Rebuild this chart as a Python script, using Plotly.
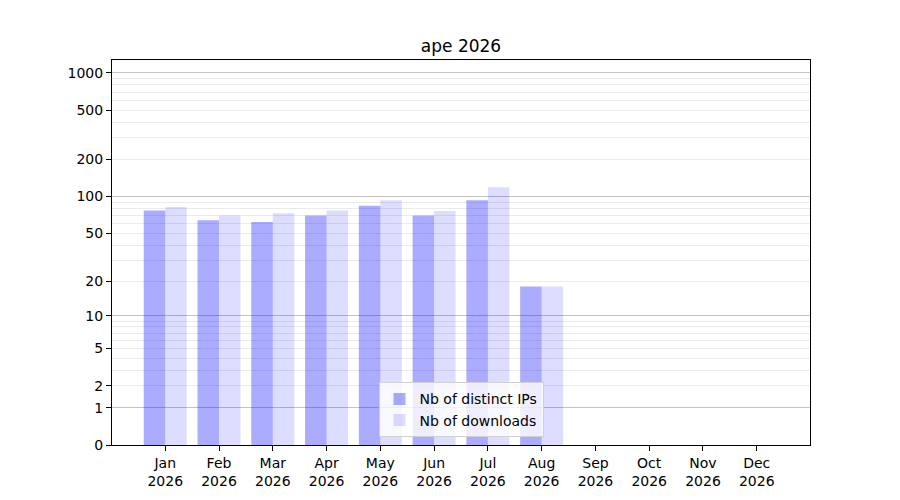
import numpy as np
import plotly.graph_objects as go

TITLE = "ape 2026"
YEAR = "2026"
MONTHS = ["Jan", "Feb", "Mar", "Apr", "May", "Jun",
          "Jul", "Aug", "Sep", "Oct", "Nov", "Dec"]

# monthly counts (Jan..Aug, nothing after)
distinct_ips = [77, 64, 62, 70, 84, 70, 93, 18]
downloads = [82, 70, 73, 77, 93, 76, 119, 18]

y_labels = [0, 1, 2, 5, 10, 20, 50, 100, 200, 500, 1000]
major_grid = [1, 10, 100, 1000]
minor_grid = [m * 10 ** k for k in range(3) for m in range(2, 10)]
y_max = 1273


def log1p10(v):
	# log10(1+x) scale, same as the original symlog-ish axis
	return np.log10(1 + np.asarray(v, dtype=float))


FONT = "DejaVu Sans"

fig = go.Figure()
fig.add_trace(go.Bar(
	x=np.arange(len(distinct_ips)),
	y=log1p10(distinct_ips),
	customdata=distinct_ips,
	hovertemplate="%{customdata}<extra>Nb of distinct IPs</extra>",
	name="Nb of distinct IPs",
	marker=dict(color="rgba(0,0,255,0.33)", line=dict(width=0)),
))
fig.add_trace(go.Bar(
	x=np.arange(len(downloads)),
	y=log1p10(downloads),
	customdata=downloads,
	hovertemplate="%{customdata}<extra>Nb of downloads</extra>",
	name="Nb of downloads",
	marker=dict(color="rgba(0,0,255,0.135)", line=dict(width=0)),
))
# empty trace so the label axis gets drawn
fig.add_trace(go.Scatter(x=[], y=[], yaxis="y2", showlegend=False, hoverinfo="skip"))

# page has an 8px body margin, so margins are shifted by that
fig.update_layout(
	width=900,
	height=500,
	margin=dict(l=104, r=98, t=52, b=63),
	paper_bgcolor="white",
	plot_bgcolor="white",
	font=dict(family=FONT, size=14, color="black"),
	title=dict(text=TITLE, x=0.5, xref="paper", xanchor="center",
		y=1 - 38 / 500, yref="container", yanchor="middle",
		font=dict(family=FONT, size=17, color="black")),
	barmode="group",
	bargap=0.2,
	bargroupgap=0,
	showlegend=True,
	legend=dict(
		x=0.5, xanchor="center", y=0.02, yanchor="bottom",
		bgcolor="rgba(255,255,255,0.8)", bordercolor="#d0d0d0", borderwidth=1,
		font=dict(family=FONT, size=14, color="black"),
	),
	xaxis=dict(
		range=[-0.99, 11.99],
		tickmode="array",
		tickvals=list(range(len(MONTHS))),
		ticktext=["{}<br>{}".format(m, YEAR) for m in MONTHS],
		ticks="outside", ticklen=5, tickcolor="black",
		showline=True, linecolor="black", linewidth=1, mirror=True,
		showgrid=False, zeroline=False,
	),
	yaxis=dict(
		range=[0, float(log1p10(y_max))],
		tickmode="array",
		tickvals=log1p10(major_grid),
		showticklabels=False,
		ticks="",
		showgrid=True, gridcolor="#c4c4c4", gridwidth=1,
		minor=dict(tickmode="array", tickvals=log1p10(minor_grid),
			showgrid=True, gridcolor="#ebebeb", gridwidth=1, ticks=""),
		showline=True, linecolor="black", linewidth=1, mirror=True,
		zeroline=False,
	),
	yaxis2=dict(
		overlaying="y",
		side="left",
		anchor="x",
		range=[0, float(log1p10(y_max))],
		tickmode="array",
		tickvals=log1p10(y_labels),
		ticktext=[str(v) for v in y_labels],
		ticks="outside", ticklen=5, tickcolor="black",
		showgrid=False, zeroline=False,
		showline=False,
	),
)

fig.write_html("out.html")
